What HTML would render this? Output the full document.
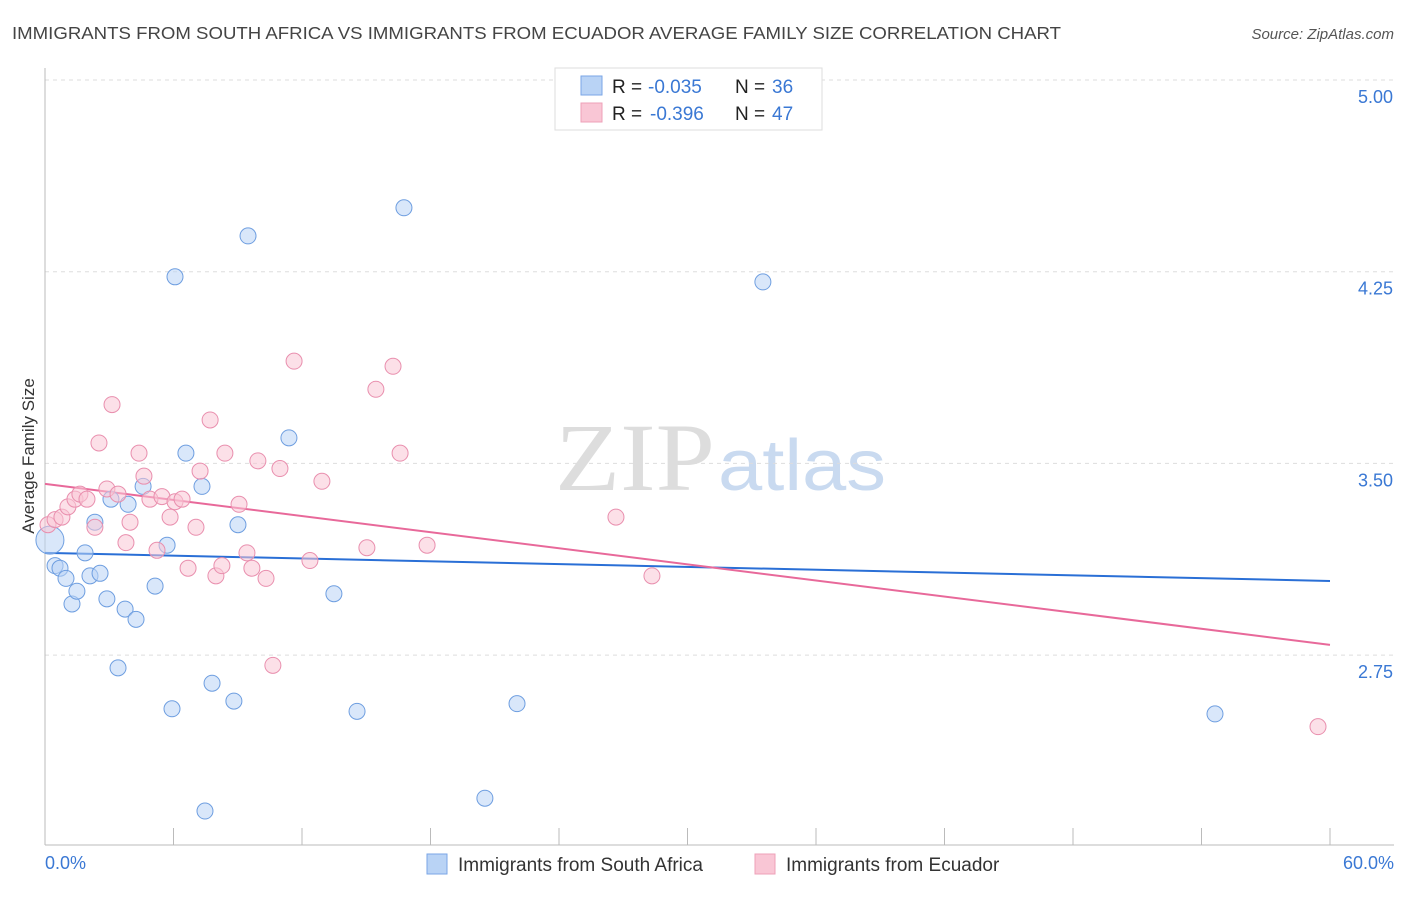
<!DOCTYPE html>
<html><head><meta charset="utf-8"><style>
body{margin:0;background:#fff;font-family:"Liberation Sans",sans-serif;}
</style></head><body>
<svg id="chart" width="1406" height="892" xmlns="http://www.w3.org/2000/svg">
<text x="12" y="39" font-size="17.5" fill="#444" textLength="1049" lengthAdjust="spacingAndGlyphs">IMMIGRANTS FROM SOUTH AFRICA VS IMMIGRANTS FROM ECUADOR AVERAGE FAMILY SIZE CORRELATION CHART</text>
<text x="1394" y="39" font-size="15" fill="#555" font-style="italic" text-anchor="end">Source: ZipAtlas.com</text>
<text x="555" y="490" font-size="96" fill="#ddd" font-family="Liberation Serif,serif" textLength="160" lengthAdjust="spacingAndGlyphs">ZIP</text>
<text x="718" y="490" font-size="72" fill="#c9daf0" textLength="168" lengthAdjust="spacingAndGlyphs">atlas</text>
<g id="grid"></g><g id="axes"></g><g id="trends"></g><g id="pts"></g>
<text transform="translate(34,456) rotate(-90)" font-size="17" fill="#333" text-anchor="middle">Average Family Size</text>
<text x="45" y="869" font-size="18" fill="#3a78d4">0.0%</text>
<text x="1394" y="869" font-size="18" fill="#3a78d4" text-anchor="end">60.0%</text>
<g>
<rect x="555" y="68" width="267" height="62" fill="#fff" stroke="#ddd"/>
<rect x="581" y="76" width="21" height="19" fill="#b9d3f5" stroke="#7aa6e6"/>
<rect x="581" y="103" width="21" height="19" fill="#f9c6d5" stroke="#eea0b8"/>
<text x="612" y="93" font-size="19" fill="#222">R =</text>
<text x="648" y="93" font-size="19" fill="#3a78d4">-0.035</text>
<text x="735" y="93" font-size="19" fill="#222">N =</text>
<text x="772" y="93" font-size="19" fill="#3a78d4">36</text>
<text x="612" y="120" font-size="19" fill="#222">R =</text>
<text x="650" y="120" font-size="19" fill="#3a78d4">-0.396</text>
<text x="735" y="120" font-size="19" fill="#222">N =</text>
<text x="772" y="120" font-size="19" fill="#3a78d4">47</text>
</g>
<g>
<rect x="427" y="854" width="20" height="20" fill="#b9d3f5" stroke="#7aa6e6"/>
<text x="458" y="871" font-size="19" fill="#333">Immigrants from South Africa</text>
<rect x="755" y="854" width="20" height="20" fill="#f9c6d5" stroke="#eea0b8"/>
<text x="786" y="871" font-size="19" fill="#333">Immigrants from Ecuador</text>
</g>
</svg>
<script>
const yTicks=[5.00,4.25,3.50,2.75];
const xTickPcts=[0,6,12,18,24,30,36,42,48,54,60];
const saX=[0.47,0.70,0.98,1.26,1.49,1.87,2.10,2.33,2.57,2.89,3.08,3.41,3.74,3.88,4.25,4.58,5.14,5.70,5.93,6.07,6.58,7.33,7.47,7.80,8.82,9.01,9.48,11.39,13.49,14.57,16.76,20.54,22.04,33.52,54.63,0.23];
const saY=[3.10,3.09,3.05,2.95,3.00,3.15,3.06,3.27,3.07,2.97,3.36,2.70,2.93,3.34,2.89,3.41,3.02,3.18,2.54,4.23,3.54,3.41,2.14,2.64,2.57,3.26,4.39,3.60,2.99,2.53,4.50,2.19,2.56,4.21,2.52,3.20];
const ecX=[0.14,0.47,0.79,1.07,1.40,1.63,1.96,2.33,2.52,2.89,3.13,3.41,3.78,3.97,4.39,4.62,4.90,5.23,5.46,5.84,6.07,6.40,6.68,7.05,7.24,7.71,7.98,8.26,8.40,9.06,9.43,9.66,9.94,10.32,10.64,10.97,11.63,12.37,12.93,15.03,15.45,16.25,16.58,17.84,26.66,28.34,59.44];
const ecY=[3.26,3.28,3.29,3.33,3.36,3.38,3.36,3.25,3.58,3.40,3.73,3.38,3.19,3.27,3.54,3.45,3.36,3.16,3.37,3.29,3.35,3.36,3.09,3.25,3.47,3.67,3.06,3.10,3.54,3.34,3.15,3.09,3.51,3.05,2.71,3.48,3.90,3.12,3.43,3.17,3.79,3.88,3.54,3.18,3.29,3.06,2.47];
const saTrend=[3.15,3.04];
const ecTrend=[3.42,2.79];
const NS="http://www.w3.org/2000/svg";
const xs=p=>45+p/60*1285;
const ys=v=>80+(5-v)/0.75*191.7;
function mk(parent,tag,attrs){const e=document.createElementNS(NS,tag);for(const k in attrs)e.setAttribute(k,attrs[k]);document.getElementById(parent).appendChild(e);return e;}
yTicks.forEach(t=>{
 const l=mk('grid','line',{x1:45,x2:1394,y1:ys(t),y2:ys(t),stroke:'#ddd','stroke-dasharray':'4,4'});
 
 
 const tx=mk('grid','text',{x:1393,y:ys(t)+23,'font-size':18,fill:'#3a78d4','text-anchor':'end'});
 tx.textContent=t.toFixed(2);
 
 
});
const ax=mk('axes','line',{x1:45,x2:1394,y1:845,y2:845,stroke:'#bbb'});


const ay=mk('axes','line',{x1:45,x2:45,y1:68,y2:845,stroke:'#bbb'});


xTickPcts.forEach(p=>{
 const t=mk('axes','line',{x1:xs(p),x2:xs(p),y1:828,y2:845,stroke:'#bbb'});
 
 
});
function trend(v,c,n){const l=mk('trends','line',{x1:xs(0),x2:xs(60),y1:ys(v[0]),y2:ys(v[1]),stroke:c,'stroke-width':2});
 
 }
trend(saTrend,'#2a6fd6','trend-line-south-africa');
trend(ecTrend,'#e8699a','trend-line-ecuador');
function pts(X,Y,f,s,n){X.forEach((x,i)=>{const r=(i===X.length-1&&n==='point-south-africa')?14:8;
 const c=mk('pts','circle',{cx:xs(x),cy:ys(Y[i]),r:r,fill:f,stroke:s,'stroke-width':1,'fill-opacity':0.55});
 
 });}
pts(saX,saY,'#b9d3f5','#6e9ee0','point-south-africa');
pts(ecX,ecY,'#f9c6d5','#e98fae','point-ecuador');
</script>
</body></html>
